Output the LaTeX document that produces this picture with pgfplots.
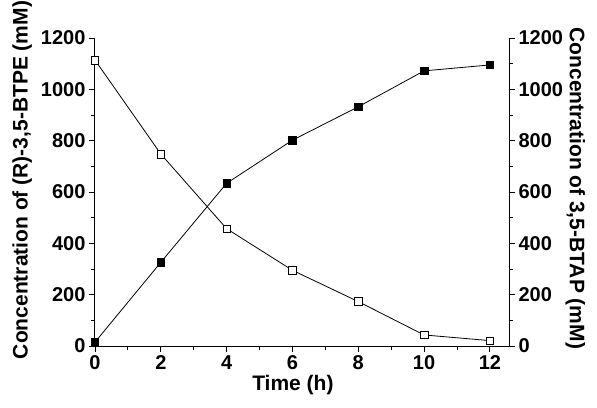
\documentclass[border=0pt]{standalone}
\usepackage{fontspec}
\setmainfont{Liberation Sans}
\usepackage{pgfplots}
\pgfplotsset{compat=1.18}

\pgfplotsset{
  common/.style={
    scale only axis,
    width=414pt, height=308pt,
    xmin=0, xmax=12.58,
    ymin=0, ymax=1200,
    tick align=outside,
    major tick length=6pt,
    minor tick length=3.5pt,
    every tick/.style={black, line width=0.9pt},
    axis line style={line width=1pt},
    ytick={0,200,...,1200},
    minor y tick num=1,
    /pgf/number format/assume math mode=true,
    /pgf/number format/1000 sep={},
    tick label style={font=\fontsize{20}{22}\selectfont\bfseries},
    label style={font=\fontsize{21}{23}\selectfont\bfseries},
  }
}

\begin{document}
\begin{tikzpicture}
\useasboundingbox (-95pt,-61pt) rectangle (502pt,346pt);
\begin{axis}[
  common,
  at={(0pt,0pt)}, anchor=south west,
  axis x line*=bottom,
  axis y line*=left,
  xtick={0,2,...,12},
  minor x tick num=1,
  xlabel={Time (h)},
  ylabel={Concentration of (R)-3,5-BTPE (mM)},
  xlabel style={at={(axis description cs:0.478,-0.127)}, anchor=center},
  ylabel style={at={(axis description cs:-0.176,0.539)}, anchor=center},
]
\addplot[black, line width=0.8pt, mark=square*, mark size=3.8pt,
         mark options={fill=black, line width=0.6pt}]
  coordinates {(0,15) (2,326) (4,634) (6,802) (8,932) (10,1072) (12,1095)};
\addplot[black, line width=0.8pt, mark=square*, mark size=3.8pt,
         mark options={fill=white, line width=0.6pt}]
  coordinates {(0,1114) (2,748) (4,457) (6,295) (8,173) (10,43) (12,21)};
\end{axis}
\begin{axis}[
  common,
  at={(0pt,0pt)}, anchor=south west,
  axis x line=none,
  axis y line*=right,
  ylabel={Concentration of 3,5-BTAP (mM)},
  ylabel style={rotate=180, at={(axis description cs:1.16,0.512)}, anchor=center},
]
\end{axis}
\end{tikzpicture}
\end{document}
